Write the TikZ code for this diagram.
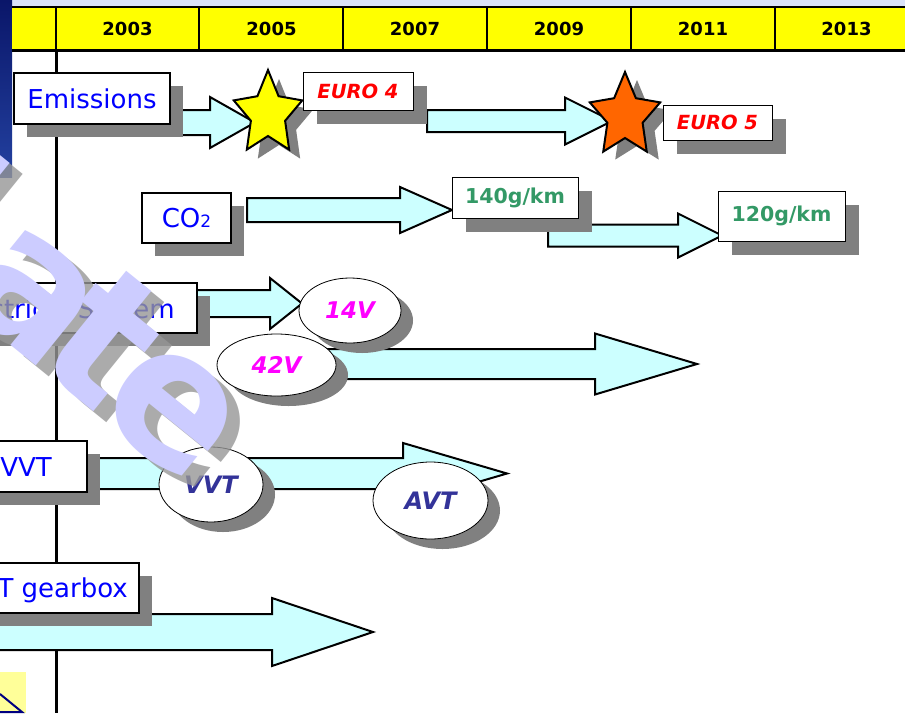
\documentclass[tikz,border=0pt]{standalone}
\usepackage{fontspec}
\setmainfont{DejaVu Sans}
\usetikzlibrary{shapes.geometric,shadows}
\definecolor{navyA}{RGB}{10,22,105}
\definecolor{navyB}{RGB}{35,65,160}
\definecolor{stripc}{RGB}{218,226,248}
\definecolor{arrowc}{RGB}{204,255,255}
\definecolor{shadc}{RGB}{128,128,128}
\definecolor{lblblue}{RGB}{0,0,255}
\definecolor{eurored}{RGB}{255,0,0}
\definecolor{kmgreen}{RGB}{51,153,102}
\definecolor{voltc}{RGB}{255,0,255}
\definecolor{vvtc}{RGB}{51,51,153}
\definecolor{staryel}{RGB}{255,255,0}
\definecolor{starorg}{RGB}{255,102,0}
\definecolor{wmlav}{RGB}{204,204,255}
\definecolor{wmgray}{RGB}{150,150,150}
\definecolor{iconyel}{RGB}{255,255,153}
\definecolor{iconnavy}{RGB}{0,0,128}

\newcommand\barrow[6]{\draw[blockarrow] ({#1},{#4-#5}) -- ({#2},{#4-#5}) -- ({#2},{#4-#6}) -- ({#3},{#4}) -- ({#2},{#4+#6}) -- ({#2},{#4+#5}) -- ({#1},{#4+#5}) -- cycle;}
\newcommand\starshape[5]{\draw[#5] plot[samples at={0,...,9}, variable=\k] ({#1+ifthenelse(mod(\k,2)==0,1,0.5)*#3*cos(-90+36*\k)}, {#2+ifthenelse(mod(\k,2)==0,1,0.5)*#4*sin(-90+36*\k)}) -- cycle;}
\newcommand\wmword{\llap{l\kern0.12em}a\kern-0.12em t\kern-0.05em e}

\tikzset{
  blockarrow/.style={draw=black, line width=2pt, fill=arrowc, line join=miter},
  boxA/.style={draw=black, line width=2.6pt, fill=white, inner sep=0pt,
    drop shadow={shadow xshift=13pt, shadow yshift=-13pt, opacity=1, fill=shadc}},
  boxB/.style={draw=black, line width=0.8pt, fill=white, inner sep=0pt,
    drop shadow={shadow xshift=14pt, shadow yshift=-14pt, opacity=1, fill=shadc}},
  oval/.style={ellipse, draw=black, line width=0.8pt, fill=white, inner sep=0pt,
    drop shadow={shadow xshift=12pt, shadow yshift=-10pt, opacity=1, fill=shadc}},
  yr/.style={font=\fontsize{18}{20}\selectfont\bfseries, inner sep=0pt},
  lbl/.style={text=lblblue, font=\fontsize{26}{30}\selectfont},
  eurot/.style={text=eurored, font=\fontsize{19.5}{21}\selectfont\bfseries\itshape},
  kmt/.style={text=kmgreen, font=\fontsize{20.5}{22}\selectfont\bfseries},
  voltt/.style={text=voltc, font=\fontsize{23}{25}\selectfont\bfseries\itshape},
  vvtt/.style={text=vvtc, font=\fontsize{24}{26}\selectfont\bfseries\itshape},
  wmtext/.style={font=\fontsize{185}{185}\selectfont\bfseries, inner sep=0pt, anchor=base, rotate=-39}
}

\begin{document}
\begin{tikzpicture}[x=1pt,y=-1pt]
\useasboundingbox (0,0) rectangle (905,713);
\fill[white] (0,0) rectangle (905,713);

% top strip and left bar
\fill[stripc] (0,0) rectangle (905,7);
\shade[top color=navyA, bottom color=navyB] (0,0) rectangle (12,177);

% header
\fill[staryel] (12,7) rectangle (905,50);
\draw[line width=2pt] (12,7) -- (905,7);
\draw[line width=3pt] (12,50) -- (905,50);
\foreach \xx in {56,199,343,487,631,775} \draw[line width=2pt] (\xx,7) -- (\xx,50);
\node[yr] (y2003) at (127.5,28.5) {2003};
\node[yr] (y2005) at (271.5,28.5) {2005};
\node[yr] (y2007) at (415,28.5) {2007};
\node[yr] (y2009) at (559,28.5) {2009};
\node[yr] (y2011) at (703,28.5) {2011};
\node[yr] (y2013) at (846.5,28.5) {2013};

% timeline
\draw[line width=3pt] (56,50) -- (56,713);

% block arrows
\barrow{175}{210}{255}{122.5}{12.5}{25.5}
\barrow{427}{565}{612}{121}{11}{23.5}
\barrow{247}{400}{452}{210}{12}{23}
\barrow{548}{678}{722}{235.5}{11}{22}
\barrow{190}{270}{302}{303.5}{13.5}{25.5}
\barrow{300}{595}{697}{364}{15}{30.5}
\barrow{98}{403}{507}{473.5}{15.5}{30.5}
\barrow{-10}{272}{373}{632}{18}{34}

% label boxes
\node[boxA, lbl, minimum width=156pt, minimum height=51pt] (emis) at (92,98.5) {Emissions};
\node[boxA, lbl, minimum width=89pt, minimum height=50pt] (co2) at (186.5,218) {CO\raisebox{0pt}{\fontsize{17}{17}\selectfont 2}};
\node[boxA, minimum width=292pt, minimum height=50pt] (elec) at (51,308) {};
\node[lbl, anchor=base east, inner sep=0pt] (electxt) at (175,318) {Electrical System};
\node[boxA, minimum width=127pt, minimum height=51pt] (vvtbox) at (23.5,466.5) {};
\node[lbl, anchor=base east, inner sep=0pt] (vvttxt) at (52,476) {VVT};
\node[boxA, minimum width=229pt, minimum height=50pt] (cvt) at (24.5,588) {};
\node[lbl, anchor=base east, inner sep=0pt] (cvttxt) at (128,597.5) {CVT gearbox};

% stars
\starshape{279}{123}{36}{44}{fill=shadc, draw=none}
\starshape{268}{114}{36}{44}{fill=staryel, draw=black, line width=2pt, line join=miter}
\starshape{637}{124}{37}{44}{fill=shadc, draw=none}
\starshape{625}{116}{37}{44}{fill=starorg, draw=black, line width=2pt, line join=miter}

% value boxes
\node[boxB, eurot, minimum width=110pt, minimum height=38pt] (euro4) at (358,91) {EURO 4};
\node[boxB, eurot, minimum width=109pt, minimum height=35pt] (euro5) at (717.5,122.5) {EURO 5};
\node[boxB, kmt, minimum width=126pt, minimum height=41pt] (g140) at (515,197.5) {140g/km};
\node[boxB, kmt, minimum width=127pt, minimum height=50pt] (g120) at (781.5,216) {120g/km};

% ellipses
\node[oval, voltt, minimum width=102pt, minimum height=65pt] (v14) at (350,310.5) {14V};
\node[oval, voltt, minimum width=119pt, minimum height=62pt] (v42) at (276.5,365) {42V};
\node[oval, vvtt, minimum width=104pt, minimum height=75pt] (vvt) at (211,484.5) {VVT};
\node[oval, vvtt, minimum width=115pt, minimum height=77pt] (avt) at (430.5,500.5) {AVT};

% watermark
\node[wmtext, text=wmgray, opacity=0.8] (wmshadow) at (83,404) {\wmword};
\node[wmtext, text=wmlav] (wm) at (70,393) {\wmword};

% corner icon
\fill[iconyel] (0,672) rectangle (26,713);
\draw[iconnavy, line width=2pt] (0,694) -- (22,712) -- (0,712);
\end{tikzpicture}
\end{document}
